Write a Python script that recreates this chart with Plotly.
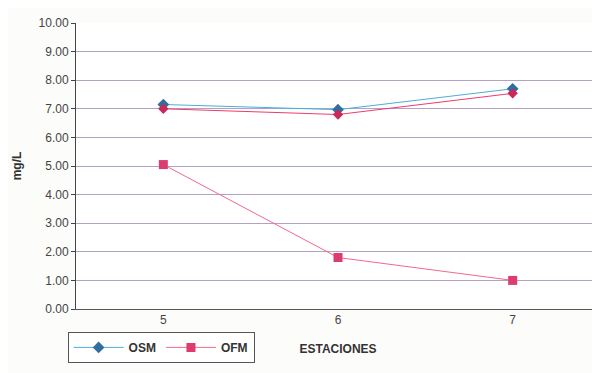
import plotly.graph_objects as go

estaciones = ["5", "6", "7"]
osm_blue = [7.15, 6.97, 7.70]
osm_red = [7.00, 6.80, 7.54]
ofm = [5.05, 1.80, 1.00]
y_ticks = [0, 1, 2, 3, 4, 5, 6, 7, 8, 9, 10]
y_tick_labels = [f"{v:.2f}" for v in y_ticks]

fig = go.Figure()
fig.add_trace(go.Scatter(
    x=estaciones, y=osm_blue, name="<b>OSM</b>", mode="lines+markers",
    line=dict(color="#4aaedc", width=1),
    marker=dict(symbol="diamond", size=9, color="#2f6f9f"),
))
fig.add_trace(go.Scatter(
    x=estaciones, y=osm_red, name="OSM ", mode="lines+markers", showlegend=False,
    line=dict(color="#ee3c6c", width=1),
    marker=dict(symbol="diamond", size=8, color="#c8285a"),
))
fig.add_trace(go.Scatter(
    x=estaciones, y=ofm, name="<b>OFM</b>", mode="lines+markers",
    line=dict(color="#f06a8a", width=1),
    marker=dict(symbol="square", size=9, color="#dc3c70"),
))

font = "Arial, Liberation Sans, sans-serif"
fig.update_layout(
    width=600, height=373,
    margin=dict(l=68, r=8, t=13, b=72),
    paper_bgcolor="#fcfcfa",
    plot_bgcolor="#ffffff",
    font=dict(family=font, size=12, color="#333333"),
    showlegend=True,
    legend=dict(
        orientation="h", x=-0.016, y=-0.08, xanchor="left", yanchor="top",
        bordercolor="#555555", borderwidth=1, bgcolor="#ffffff",
        font=dict(family=font, size=12, color="#333333"),
        itemwidth=50, tracegroupgap=0,
    ),
    xaxis=dict(
        type="category", range=[-0.5, 2.5], showgrid=False, showline=True,
        linecolor="#555555", linewidth=1, ticks="",
        tickfont=dict(size=12, color="#444444"),
        title=dict(text="<b>ESTACIONES</b>", font=dict(size=12, color="#333333"), standoff=18),
    ),
    yaxis=dict(
        range=[0, 10], tickvals=y_ticks, ticktext=y_tick_labels,
        showgrid=True, gridcolor="#b4a2c4", gridwidth=1,
        showline=True, linecolor="#444444", linewidth=1,
        ticks="outside", ticklen=4, tickcolor="#444444",
        tickfont=dict(size=12, color="#444444"),
        title=dict(text="<b>mg/L</b>", font=dict(size=12, color="#333333"), standoff=14),
        zeroline=False,
    ),
)
fig.add_shape(type="line", xref="paper", yref="paper", x0=1, x1=1, y0=0, y1=1,
              line=dict(color="#666666", width=1))
fig.write_html("out.html")
